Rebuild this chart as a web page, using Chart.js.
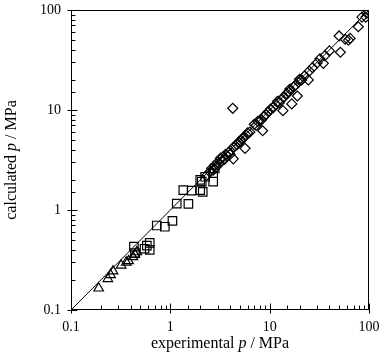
<!DOCTYPE html>
<html><head><meta charset="utf-8">
<script src="https://cdn.jsdelivr.net/npm/chart.js@4/dist/chart.umd.min.js"></script>
<style>html,body{margin:0;padding:0;background:#fff}#wrap{width:386px;height:360px}</style>
</head><body><div id="wrap"><canvas id="c" width="386" height="360"></canvas></div>
<script>
// ---- data (experimental p / MPa, calculated p / MPa) ----
const triExp  = [0.19, 0.235, 0.25, 0.265, 0.32, 0.36, 0.38, 0.42, 0.44, 0.46];
const triCalc = [0.165, 0.205, 0.225, 0.245, 0.28, 0.30, 0.31, 0.34, 0.36, 0.38];

const sqExp  = [0.43, 0.44, 0.55, 0.58, 0.62, 0.62, 0.73, 0.88, 1.05, 1.16, 1.52, 1.35, 1.64, 2.0, 2.0, 2.12, 2.07, 2.24, 2.7, 2.7, 2.8];
const sqCalc = [0.43, 0.37, 0.41, 0.44, 0.47, 0.40, 0.70, 0.68, 0.78, 1.16, 1.15, 1.58, 1.56, 1.58, 2.0, 1.52, 1.92, 2.15, 1.92, 2.33, 2.6];

const diaExp  = [2.3, 2.5, 2.6, 2.7, 2.8, 2.9, 3.0, 3.1, 3.2, 3.3, 3.4, 3.5, 3.6, 3.7, 3.9, 4.0, 4.3, 4.25, 4.3, 4.5, 4.7, 4.9, 5.1, 5.3, 5.5, 5.65, 5.8, 6.0, 6.3, 8.5, 7.0, 7.3, 7.6, 8.0, 8.3, 8.8, 9.2, 9.7, 10.2, 10.8, 11.5, 12.0, 12.5, 13.0, 13.6, 14.0, 14.8, 15.5, 16.0, 16.7, 17.5, 18.0, 19.0, 19.5, 20.0, 21.0, 24.5, 22.5, 25.0, 27.0, 30.0, 32.0, 34.7, 36.0, 40.0, 51.5, 50.0, 57.5, 64.6, 62.0, 78.0, 85.0, 93.0, 95.0, 100.0];
const diaCalc = [2.2, 2.4, 2.6, 2.5, 2.8, 2.7, 3.0, 2.9, 3.3, 3.1, 3.4, 3.2, 3.6, 3.5, 3.8, 3.6, 3.25, 10.4, 4.2, 4.4, 4.5, 4.8, 4.9, 5.2, 5.3, 4.14, 5.6, 5.9, 6.0, 6.2, 7.2, 7.0, 7.7, 7.8, 8.0, 8.7, 9.0, 9.6, 10.2, 10.5, 11.3, 12.2, 11.8, 12.7, 9.85, 13.5, 14.6, 15.0, 16.2, 11.5, 17.0, 17.5, 13.8, 19.0, 20.3, 20.0, 20.0, 22.0, 24.5, 26.5, 29.5, 32.5, 29.3, 35.0, 39.0, 37.8, 55.0, 51.0, 52.0, 50.0, 68.0, 85.0, 85.0, 93.0, 97.0];

const parityX = [0.1, 100];
const parityY = [0.1, 100];

const tickLabels = ['0.1', '1', '10', '100'];
const xTitle = ['experimental ', 'p', ' / MPa'];
const yTitle = ['calculated ', 'p', ' / MPa'];

const FONT = "'Liberation Serif', 'Times New Roman', serif";
const pts = (xs, ys) => xs.map((v, i) => ({x: v, y: ys[i]}));
const isMajor = v => Math.abs(Math.log10(v) - Math.round(Math.log10(v))) < 1e-6;
const labelFor = v => {
  if (!isMajor(v)) return '';
  const e = Math.round(Math.log10(v));
  return tickLabels[e + 1] || '';
};

const deco = {
  id: 'deco',
  afterDraw(chart) {
    const {ctx, chartArea: a, scales: {x, y}} = chart;
    ctx.save();
    ctx.strokeStyle = '#000';
    ctx.lineWidth = 1;
    const L = Math.round(a.left) + 0.5, R = Math.round(a.right) - 0.5;
    const T = Math.round(a.top) + 0.5, B = Math.round(a.bottom) - 0.5;
    ctx.strokeRect(L, T, R - L, B - T);
    ctx.beginPath();
    x.ticks.forEach(t => {
      const px = Math.round(x.getPixelForValue(t.value)) + 0.5;
      const m = isMajor(t.value);
      ctx.moveTo(px, B + (m ? 4 : 0));
      ctx.lineTo(px, B - (m ? 6 : 4));
    });
    y.ticks.forEach(t => {
      const py = Math.round(y.getPixelForValue(t.value)) + 0.5;
      const m = isMajor(t.value);
      ctx.moveTo(L - (m ? 4 : 0), py);
      ctx.lineTo(L + (m ? 6 : 4), py);
    });
    ctx.stroke();
    // axis titles with italic p
    const drawParts = (parts, cx, cy) => {
      const fonts = ['16px ' + FONT, 'italic 16px ' + FONT, '16px ' + FONT];
      let w = 0;
      const ws = parts.map((p, i) => { ctx.font = fonts[i]; const m = ctx.measureText(p).width; w += m; return m; });
      let xx = cx - w / 2;
      ctx.fillStyle = '#000';
      ctx.textBaseline = 'middle';
      ctx.textAlign = 'left';
      parts.forEach((p, i) => { ctx.font = fonts[i]; ctx.fillText(p, xx, cy); xx += ws[i]; });
    };
    drawParts(xTitle, (a.left + a.right) / 2, 344);
    ctx.save();
    ctx.translate(12, (a.top + a.bottom) / 2);
    ctx.rotate(-Math.PI / 2);
    drawParts(yTitle, 0, 0);
    ctx.restore();
    ctx.restore();
  }
};

const common = {borderColor: '#000', backgroundColor: 'rgba(0,0,0,0)', borderWidth: 1.2, showLine: false};

new Chart(document.getElementById('c'), {
  type: 'scatter',
  data: {
    datasets: [
      {data: pts(parityX, parityY), showLine: true, borderColor: '#000', borderWidth: 1, pointRadius: 0, fill: false},
      {...common, data: pts(triExp, triCalc), pointStyle: 'triangle', pointRadius: 5.5},
      {...common, data: pts(sqExp, sqCalc), pointStyle: 'rect', pointRadius: 6},
      {...common, data: pts(diaExp, diaCalc), pointStyle: 'rectRot', pointRadius: 5}
    ]
  },
  options: {
    responsive: false,
    animation: false,
    devicePixelRatio: 1,
    layout: {padding: {top: 10, right: 17, left: 0, bottom: 0}},
    plugins: {legend: {display: false}, tooltip: {enabled: false}},
    scales: {
      x: {
        type: 'logarithmic', min: 0.1, max: 100,
        grid: {drawOnChartArea: false, drawTicks: false},
        border: {display: false},
        afterFit: s => { s.height = 50; s.paddingLeft = 0; s.paddingRight = 0; },
        ticks: {autoSkip: false, maxRotation: 0, padding: 9, color: '#000', font: {family: FONT, size: 14}, callback: (v) => labelFor(v)}
      },
      y: {
        type: 'logarithmic', min: 0.1, max: 100,
        grid: {drawOnChartArea: false, drawTicks: false},
        border: {display: false},
        afterFit: s => { s.width = 71; s.paddingTop = 0; s.paddingBottom = 0; },
        ticks: {autoSkip: false, padding: 10, color: '#000', font: {family: FONT, size: 14}, callback: (v) => labelFor(v)}
      }
    }
  },
  plugins: [deco]
});
</script>
</body></html>
